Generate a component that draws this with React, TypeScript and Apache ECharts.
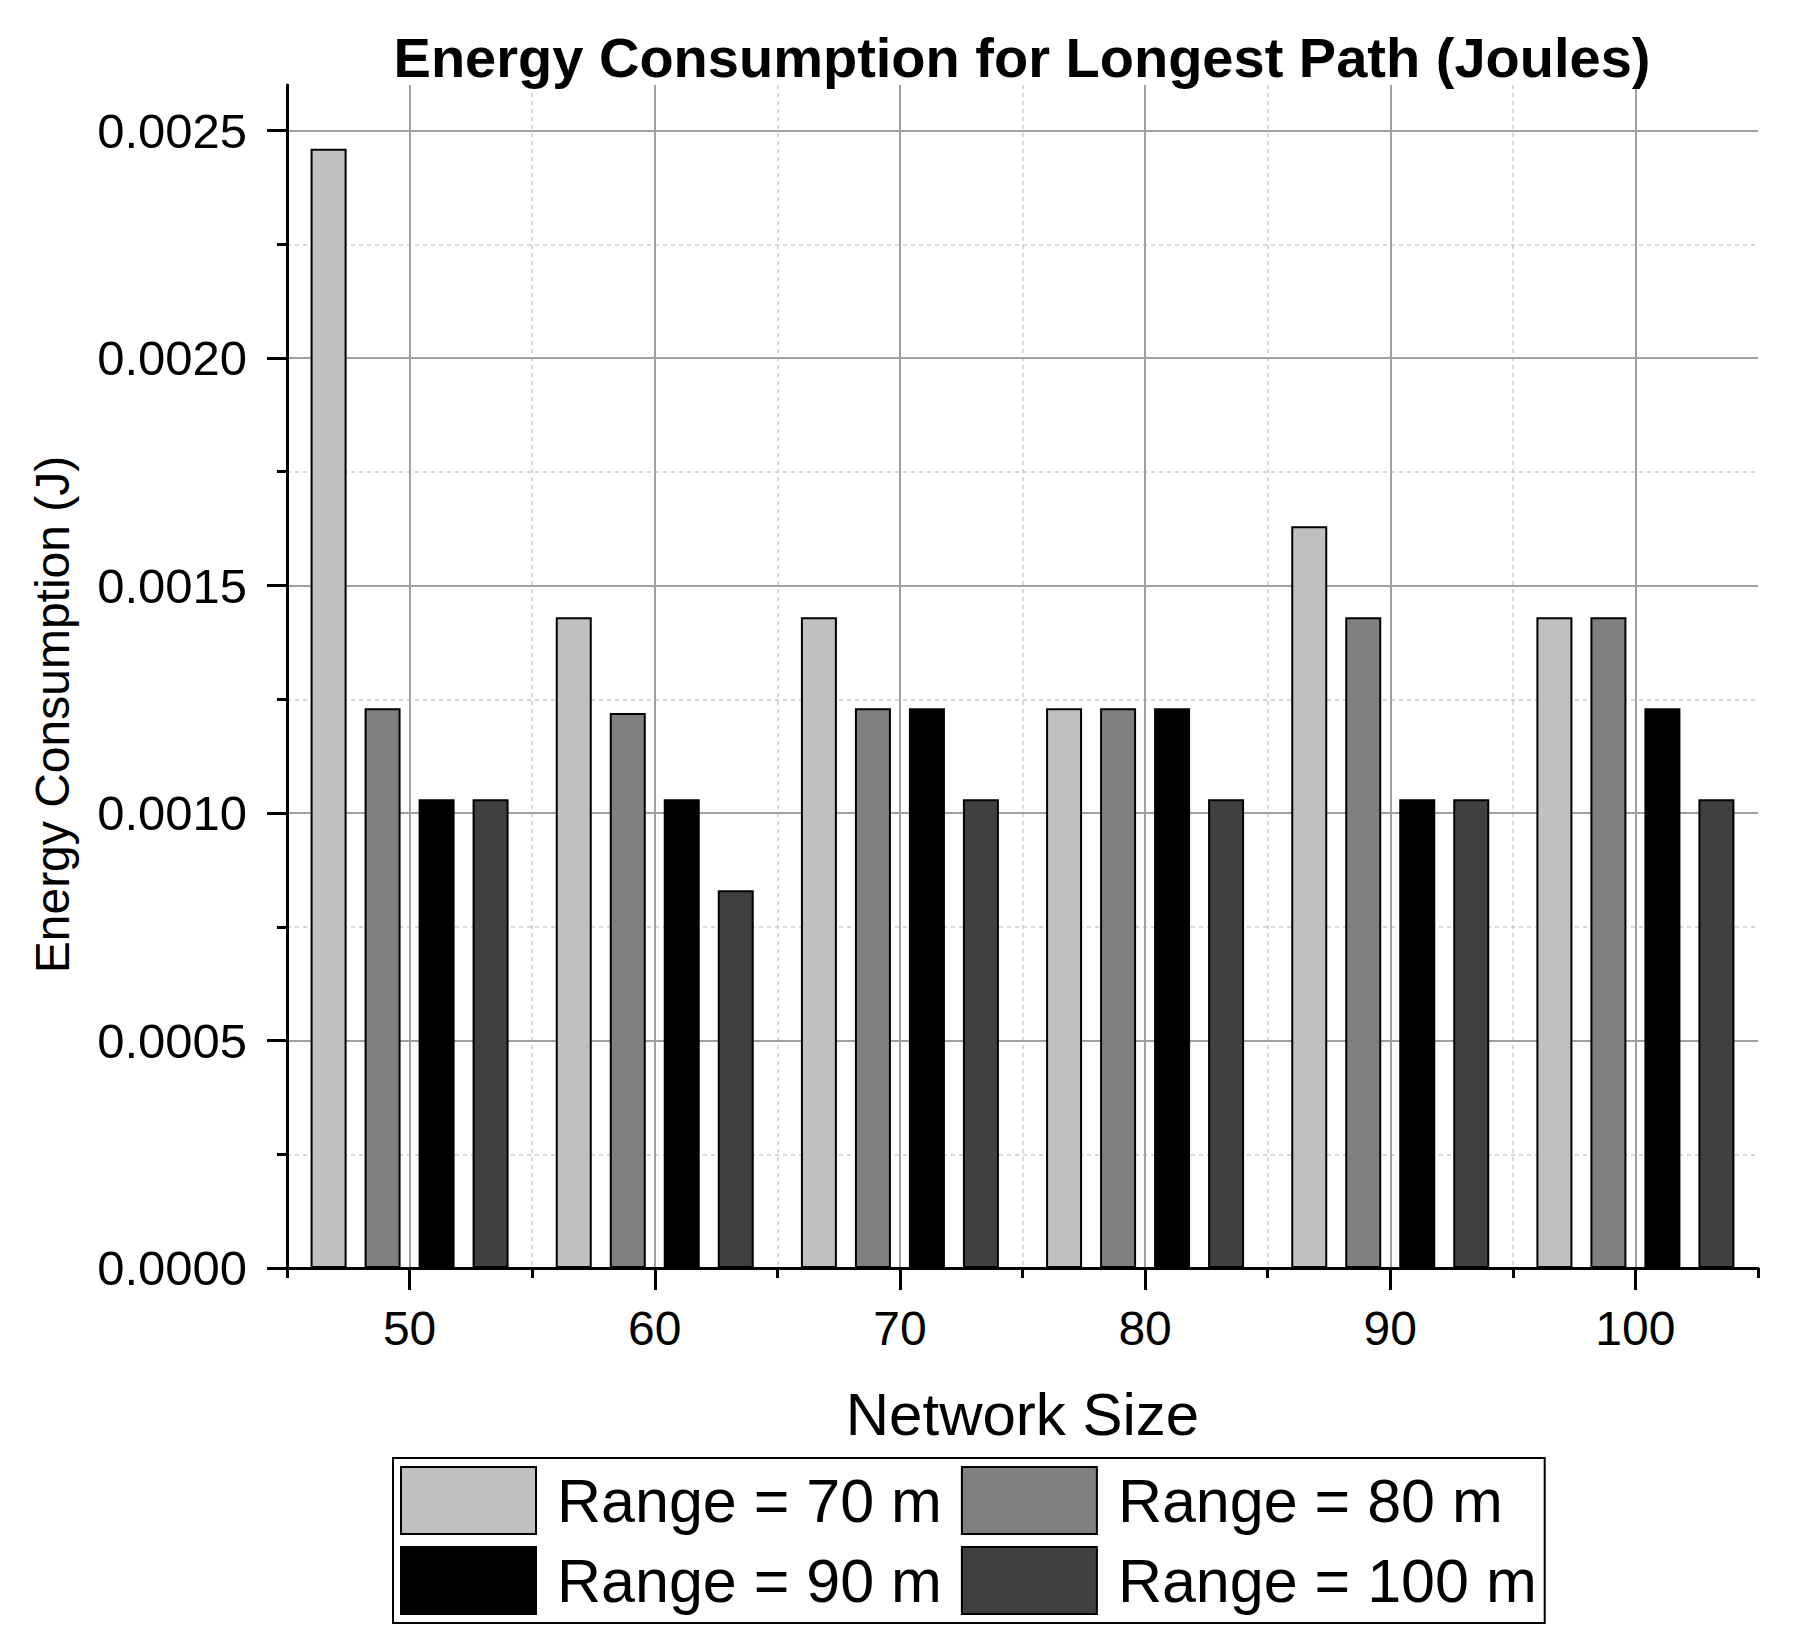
import React, { useEffect, useRef } from "react";
import * as echarts from "echarts";

const categories = ["50", "60", "70", "80", "90", "100"];
const seriesNames = ["Range = 70 m", "Range = 80 m", "Range = 90 m", "Range = 100 m"];
const range70 = [0.00246, 0.00143, 0.00143, 0.00123, 0.00163, 0.00143];
const range80 = [0.00123, 0.00122, 0.00123, 0.00123, 0.00143, 0.00143];
const range90 = [0.00103, 0.00103, 0.00123, 0.00123, 0.00103, 0.00123];
const range100 = [0.00103, 0.00083, 0.00103, 0.00103, 0.00103, 0.00103];
const seriesColors = ["#c0c0c0", "#808080", "#000000", "#404040"];
const yMajorTicks = [0, 0.0005, 0.001, 0.0015, 0.002, 0.0025];
const yMinorTicks = [0.00025, 0.00075, 0.00125, 0.00175, 0.00225];
const yMax = 0.0026;

const FONT = "'Liberation Sans', Arial, sans-serif";

export default function App() {
  const ref = useRef<HTMLDivElement>(null);
  useEffect(() => {
    document.body.style.margin = "0";
    const chart = echarts.init(ref.current!, null, { renderer: "svg" });
    const gridBox = { left: 287, top: 85, width: 1471, height: 1183 };
    const allData = [range70, range80, range90, range100];
    chart.setOption({
      animation: false,
      backgroundColor: "#ffffff",
      title: {
        text: "Energy Consumption for Longest Path (Joules)",
        left: 1022,
        top: 29,
        textAlign: "center",
        padding: 0,
        textStyle: { fontSize: 56, fontWeight: "bold", color: "#000", fontFamily: FONT },
      },
      legend: {
        data: seriesNames,
        left: 393,
        top: 1458,
        orient: "horizontal",
        width: 1200,
        itemWidth: 135,
        itemHeight: 67,
        itemGap: 11,
        padding: [8, 0, 8, 7],
        borderColor: "#000",
        borderWidth: 2,
        icon: "rect",
        selectedMode: false,
        textStyle: {
          fontSize: 61,
          color: "#000",
          fontFamily: FONT,
          padding: [0, 8, 0, 16],
          lineHeight: 67,
        },
      },
      grid: [
        { ...gridBox, containLabel: false },
        { ...gridBox, containLabel: false },
      ],
      xAxis: [
        {
          type: "category",
          gridIndex: 0,
          data: categories,
          boundaryGap: true,
          axisLine: { show: true, lineStyle: { color: "#000", width: 3 } },
          axisTick: { show: true, alignWithLabel: true, length: 22, lineStyle: { color: "#000", width: 3 } },
          axisLabel: { fontSize: 48, color: "#000", fontFamily: FONT, margin: 36 },
          splitLine: { show: true, alignWithLabel: true, lineStyle: { color: "#a0a0a0", width: 2 } },
          name: "Network Size",
          nameLocation: "middle",
          nameGap: 116,
          nameTextStyle: { fontSize: 60, color: "#000", fontFamily: FONT },
          z: 3,
        },
        {
          type: "category",
          gridIndex: 1,
          data: categories,
          boundaryGap: true,
          axisLine: { show: false },
          axisTick: { show: true, length: 10, lineStyle: { color: "#000", width: 3 } },
          axisLabel: { show: false },
          splitLine: {
            show: true,
            showMinLine: false,
            showMaxLine: false,
            lineStyle: { color: "#cccccc", width: 1.5, type: [4, 4] },
          },
        },
      ],
      yAxis: [
        {
          type: "value",
          gridIndex: 0,
          min: 0,
          max: yMax,
          interval: 0.0005,
          axisLine: { show: true, lineStyle: { color: "#000", width: 3 } },
          axisTick: {
            show: true,
            length: 20,
            customValues: yMajorTicks,
            lineStyle: { color: "#000", width: 3 },
          },
          axisLabel: {
            customValues: yMajorTicks,
            fontSize: 49,
            color: "#000",
            fontFamily: FONT,
            margin: 40,
            formatter: (v: number) => v.toFixed(4),
          },
          splitLine: { show: true, lineStyle: { color: "#a0a0a0", width: 2 } },
          name: "Energy Consumption (J)",
          nameLocation: "middle",
          nameGap: 211,
          nameTextStyle: { fontSize: 48, color: "#000", fontFamily: FONT, padding: [0, 76, 0, 0] },
          z: 3,
        },
        {
          type: "value",
          gridIndex: 1,
          min: 0,
          max: yMax,
          axisLine: { show: false },
          axisTick: {
            show: true,
            length: 10,
            customValues: yMinorTicks,
            lineStyle: { color: "#000", width: 3 },
          },
          axisLabel: { show: false, customValues: yMinorTicks },
          splitLine: { show: true, lineStyle: { color: "#cccccc", width: 1.5, type: [4, 4] } },
        },
      ],
      series: seriesNames.map((name, i) => ({
        name,
        type: "bar",
        xAxisIndex: 0,
        yAxisIndex: 0,
        data: allData[i],
        barWidth: 36,
        barGap: "50%",
        itemStyle: { color: seriesColors[i], borderColor: "#000", borderWidth: 2 },
        z: 4,
      })),
    });
    return () => chart.dispose();
  }, []);
  return <div ref={ref} style={{ width: 1800, height: 1652, position: "absolute", left: 0, top: 0 }} />;
}
